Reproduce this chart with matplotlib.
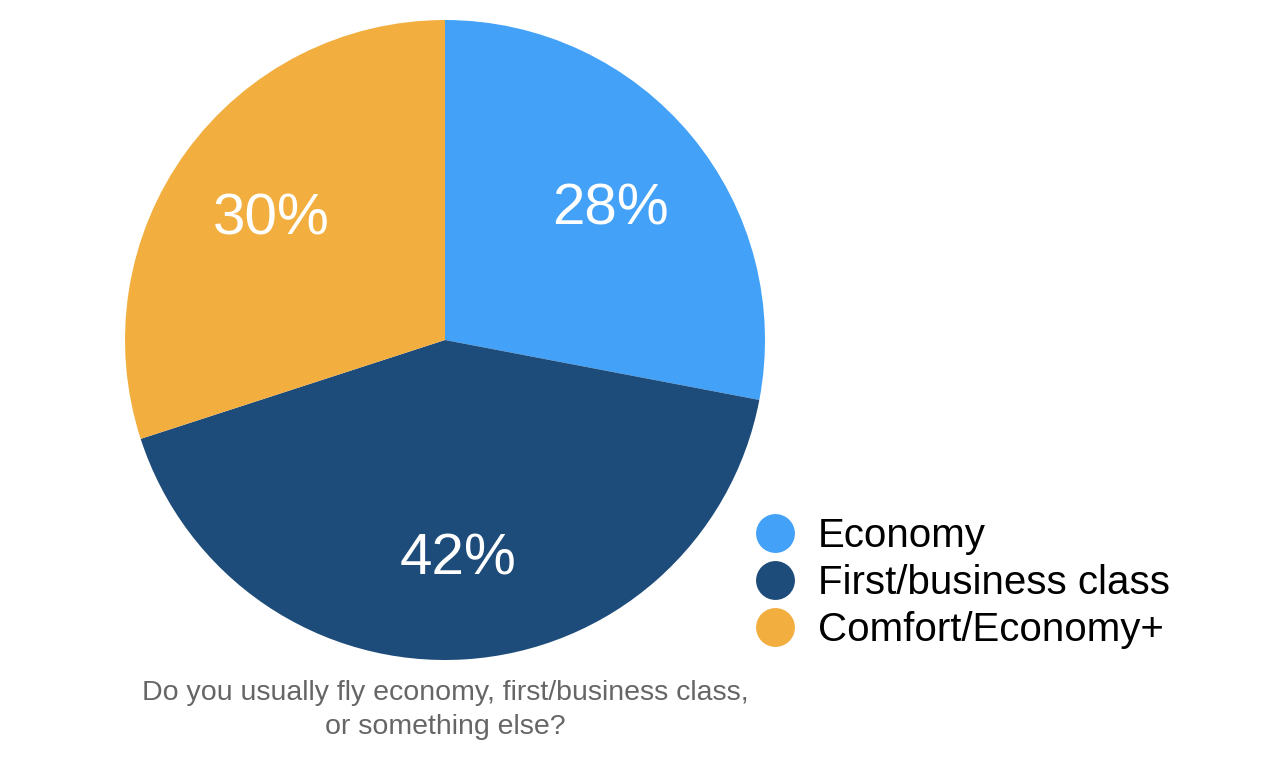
import matplotlib.pyplot as plt
from matplotlib.lines import Line2D

plt.rcParams['font.family'] = ['Liberation Sans', 'DejaVu Sans']

### chart data
labels = ['Economy', 'First/business class', 'Comfort/Economy+']
shares = [28, 42, 30]
colors = ['#43A2F8', '#1E4C7A', '#F2AF40']
question = 'Do you usually fly economy, first/business class,\nor something else?'

fig = plt.figure(figsize=(12.8, 7.57), dpi=100)

### pie axes placed so the circle sits left of centre
ax = fig.add_axes([125 / 1280, 97 / 757, 640 / 1280, 640 / 757])
wedges, texts, autotexts = ax.pie(shares, colors=colors, startangle=90, counterclock=False,
                                  autopct='%d%%', pctdistance=0.67, radius=1,
                                  wedgeprops={'linewidth': 0},
                                  textprops={'color': 'white', 'fontsize': 42})
for t in autotexts:
    t.set_va('center_baseline')
ax.set_xlim(-1, 1)
ax.set_ylim(-1, 1)
ax.set_aspect('equal')
ax.axis('off')

### legend with round markers
handles = [Line2D([], [], marker='o', linestyle='none', markersize=28,
                  markerfacecolor=c, markeredgewidth=0) for c in colors]
fig.legend(handles, labels, loc='center left', bbox_to_anchor=(731 / 1280, 1 - 583 / 757),
           frameon=False, fontsize=29, labelspacing=0.23, handletextpad=0.45,
           handlelength=1.2, borderpad=0)

### question caption under the pie
fig.text(445 / 1280, 1 - 710 / 757, question, ha='center', va='center',
         fontsize=20.5, color='#666666', linespacing=1.35)

fig.savefig('out.png', dpi=100)
